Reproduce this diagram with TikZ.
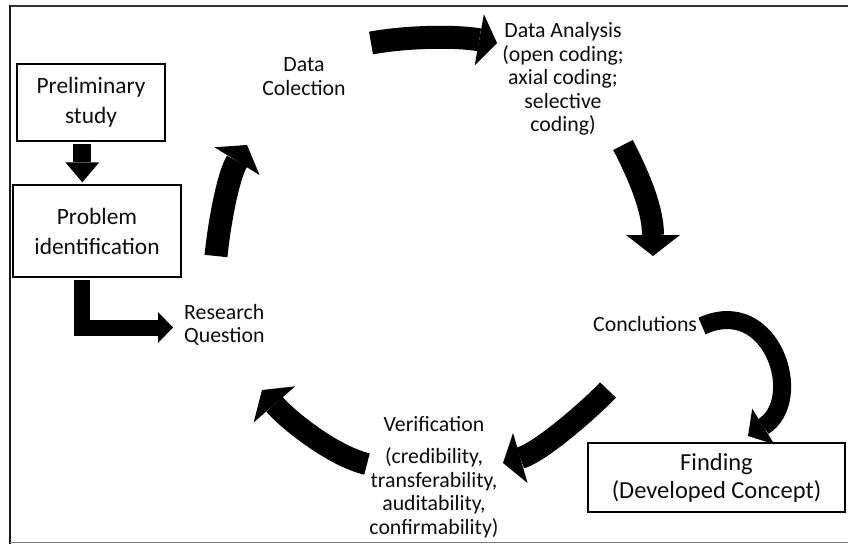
\documentclass[tikz,border=0pt]{standalone}
\usepackage{fontspec}
\setmainfont{Carlito}
\usetikzlibrary{arrows.meta}

\tikzset{
  box/.style={draw, line width=1.4pt, inner sep=0pt, align=center, text=black!95,
    font=\fontsize{23.4}{30}\selectfont},
  lbl/.style={inner sep=0pt, align=center, text=black!95,
    font=\fontsize{21.8}{23.5}\selectfont},
  bigarrow/.style n args={3}{line width=#1,
    -{Triangle[width=#2,length=#3,line width=0pt]}},
}

\begin{document}
\begin{tikzpicture}[x=1pt,y=-1pt]
\useasboundingbox (0,0) rectangle (848,544);

% page frame
\draw[line width=2pt, black!80] (9,6) -- (848,6);
\draw[line width=2.5pt, black!90] (10,5) -- (10,544);
\draw[line width=1.5pt, black!50] (10,542.5) -- (848,542.5);

% boxes
\node[box, minimum width=148pt, minimum height=77pt] (prelim) at (91,102.5) {Preliminary\\study};
\node[box, minimum width=168pt, minimum height=92pt] (problem) at (97,231) {Problem\\identification};
\node[box, minimum width=257pt, minimum height=69pt, font=\fontsize{24.5}{28}\selectfont] (finding) at (716.5,477.5) {Finding\\(Developed Concept)};

% cycle labels
\node[lbl] (collect) at (304,76.5) {Data\\Colection};
\node[lbl] (analysis) at (563,79) {Data Analysis\\(open coding;\\axial coding;\\selective\\coding)};
\node[lbl, anchor=west] (concl) at (593,324) {Conclutions};
\node[lbl] (verif) at (434,477) {Verification\\[8.5pt](credibility,\\transferability,\\auditability,\\confirmability)};
\node[lbl, anchor=west, align=left] (rq) at (184,325) {Research\\Question};

% straight block arrows
\draw[bigarrow={18pt}{34pt}{20pt}] ([xshift=66pt,yshift=-2pt]prelim.south west) -- ([xshift=70pt,yshift=2pt]problem.north west);
\draw[bigarrow={16pt}{31pt}{15pt}, line join=miter] ([xshift=70pt,yshift=-2pt]problem.south west) |- ([xshift=-11pt,yshift=-2.5pt]rq.west);

% ends of the curved arrows of the cycle
\coordinate (a1s) at (216,256); \coordinate (a1e) at (247,145);
\coordinate (a2s) at (371,43);  \coordinate (a2e) at (497,43);
\coordinate (a3s) at (623,145); \coordinate (a3e) at (653,256);
\coordinate (a4s) at (608,390); \coordinate (a4e) at (503,463);
\coordinate (a5s) at (367,464); \coordinate (a5e) at (262,390);
\coordinate (a6s) at (702,326); \coordinate (a6e) at (748,436);

% curved block arrows
\draw[bigarrow={23pt}{53pt}{19pt}] (a1s) .. controls +(3.5,-35) and +(-18.5,30) .. (a1e);
\draw[bigarrow={23pt}{52pt}{18pt}] (a2s) .. controls +(39,-7) and +(-39,-7) .. (a2e);
\draw[bigarrow={22pt}{54pt}{21pt}] (a3s) .. controls +(17,33) and +(0,-46) .. (a3e);
\draw[bigarrow={22pt}{52pt}{18pt}] (a4s) .. controls +(-17,18) and +(38,-11) .. (a4e);
\draw[bigarrow={22pt}{55pt}{19pt}] (a5s) .. controls +(-34,-8) and +(26,30) .. (a5e);
\draw[bigarrow={18pt}{42pt}{18pt}] (a6s) .. controls +(70,-32) and +(58,-36) .. (a6e);
\end{tikzpicture}
\end{document}
